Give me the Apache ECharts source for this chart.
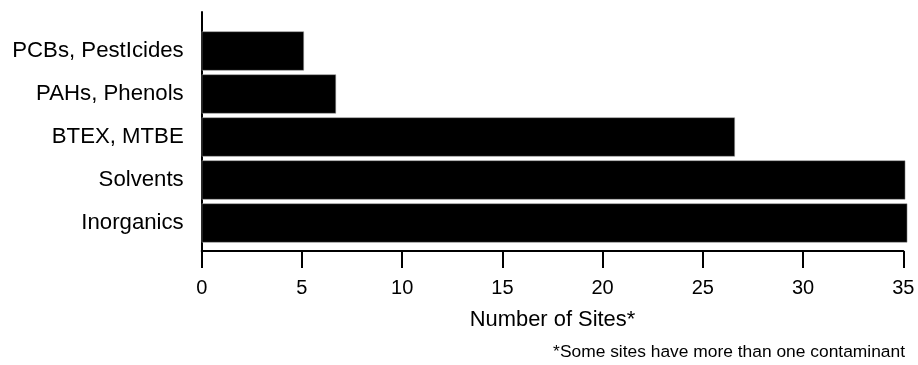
<!DOCTYPE html>
<html>
<head>
<meta charset="utf-8">
<script src="https://cdn.jsdelivr.net/npm/echarts@6/dist/echarts.min.js"></script>
<style>html,body{margin:0;padding:0;background:#fff;}#c{width:918px;height:365px;}</style>
</head>
<body>
<div id="c"></div>
<script>
const categories = ['PCBs, PestIcides', 'PAHs, Phenols', 'BTEX, MTBE', 'Solvents', 'Inorganics'];
const sites = [5.1, 6.7, 26.6, 35.1, 35.2];
const xTicks = [0, 35, 5];
const xTitle = 'Number of Sites*';
const footnote = '*Some sites have more than one contaminant';

const FONT = "'Liberation Sans', Arial, Helvetica, sans-serif";
const chart = echarts.init(document.getElementById('c'));
chart.setOption({
  animation: false,
  backgroundColor: '#fff',
  title: {
    text: footnote,
    right: 13,
    top: 344,
    padding: 0,
    textStyle: { fontFamily: FONT, fontSize: 17.4, fontWeight: 'normal', color: '#000' }
  },
  grid: [
    { left: 201.7, right: 14.7, top: 29.5, height: 215, containLabel: false },
    { left: 201.7, width: 1, top: 12, bottom: 114, containLabel: false }
  ],
  xAxis: [
    {
      type: 'value', gridIndex: 0,
      min: xTicks[0], max: xTicks[1], interval: xTicks[2],
      offset: 6.5,
      splitLine: { show: false },
      axisLine: { show: true, lineStyle: { color: '#000', width: 2 } },
      axisTick: { show: true, inside: false, length: 17, lineStyle: { color: '#000', width: 2 } },
      axisLabel: { color: '#000', fontFamily: FONT, fontSize: 20, margin: 27 },
      name: xTitle, nameLocation: 'middle', nameGap: 58,
      nameTextStyle: { color: '#000', fontFamily: FONT, fontSize: 21.9 }
    },
    { type: 'value', gridIndex: 1, show: false }
  ],
  yAxis: [
    {
      type: 'category', gridIndex: 0, data: categories, inverse: true,
      axisLine: { show: false },
      axisTick: { show: false },
      axisLabel: { color: '#000', fontFamily: FONT, fontSize: 22.2, margin: 18, padding: [0, 0, 4, 0] }
    },
    {
      type: 'value', gridIndex: 1,
      axisLine: { show: true, onZero: false, lineStyle: { color: '#000', width: 2 } },
      axisTick: { show: false }, axisLabel: { show: false }, splitLine: { show: false }
    }
  ],
  series: [{
    type: 'bar', xAxisIndex: 0, yAxisIndex: 0,
    data: sites, clip: false,
    barCategoryGap: '9%',
    itemStyle: { color: '#000', borderColor: '#999', borderWidth: 0.5 }
  }]
});
</script>
</body>
</html>
